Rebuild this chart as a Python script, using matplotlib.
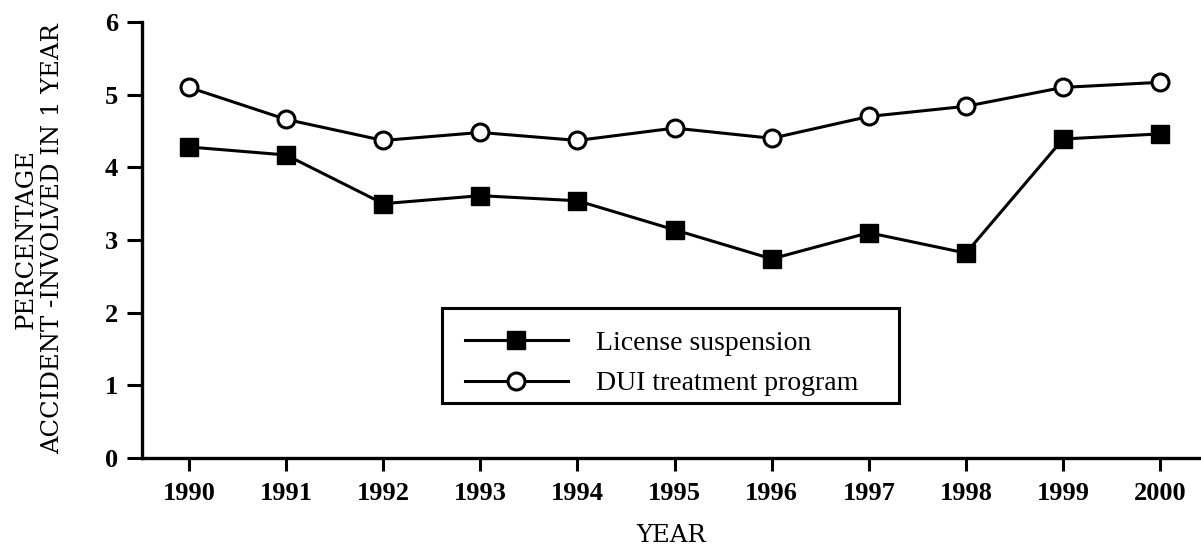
import matplotlib
matplotlib.use("Agg")
import matplotlib.pyplot as plt
from matplotlib.patches import Rectangle

years = [1990, 1991, 1992, 1993, 1994, 1995, 1996, 1997, 1998, 1999, 2000]
license_suspension = [4.28, 4.17, 3.50, 3.61, 3.54, 3.14, 2.74, 3.10, 2.82, 4.39, 4.46]
dui_treatment = [5.10, 4.66, 4.37, 4.48, 4.37, 4.54, 4.40, 4.70, 4.84, 5.10, 5.17]
yticks = [0, 1, 2, 3, 4, 5, 6]

plt.rcParams['font.family'] = ['DejaVu Serif']

W, H = 1201, 548
fig = plt.figure(figsize=(W / 100, H / 100), dpi=100)
ax = fig.add_axes([142 / W, 1 - 458 / H, (W - 142) / W, 436 / H])

ax.plot(years, license_suspension, color='black', lw=2.2, marker='s', ms=12.5,
        mfc='black', mec='black', mew=1, label='License suspension', zorder=3)
ax.plot(years, dui_treatment, color='black', lw=2.2, marker='o', ms=12.2,
        mfc='white', mec='black', mew=2.2, label='DUI treatment program', zorder=3)

ax.set_xlim(1989.516, 2000.42)
ax.set_ylim(0, 6)
ax.set_xticks(years)
ax.set_yticks(yticks)
for s in ['top', 'right']:
    ax.spines[s].set_visible(False)
for s in ['left', 'bottom']:
    ax.spines[s].set_linewidth(2.4)
ax.tick_params(axis='y', width=2.2, length=10.8, pad=6.5, direction='out')
ax.tick_params(axis='x', width=2.2, length=9.4, pad=8, direction='out')
for lbl in ax.get_xticklabels() + ax.get_yticklabels():
    lbl.set_fontfamily(['Liberation Serif'])
    lbl.set_fontweight('bold')
    lbl.set_fontsize(19)

ax.set_xlabel('YEAR', fontsize=17.5)
ax.xaxis.set_label_coords(0.5, (458 - 524) / 436)
fig.text(39 / W, 1 - 239 / H, 'PERCENTAGE\nACCIDENT -INVOLVED IN 1 YEAR',
         rotation=90, ha='center', va='center', multialignment='center', fontsize=17.5)

rect = Rectangle((0.283, 0.126), 0.432, 0.2187, transform=ax.transAxes, fill=False,
                 edgecolor='black', lw=2.2, zorder=4)
ax.add_patch(rect)
leg = ax.legend(loc='center left', bbox_to_anchor=(0.305, 0.217), frameon=False,
                prop={'family': 'Liberation Serif', 'size': 20},
                handlelength=3.7, handletextpad=1.0, labelspacing=0.55,
                borderpad=0, borderaxespad=0)

fig.savefig('out.png', dpi=100, facecolor='white')
